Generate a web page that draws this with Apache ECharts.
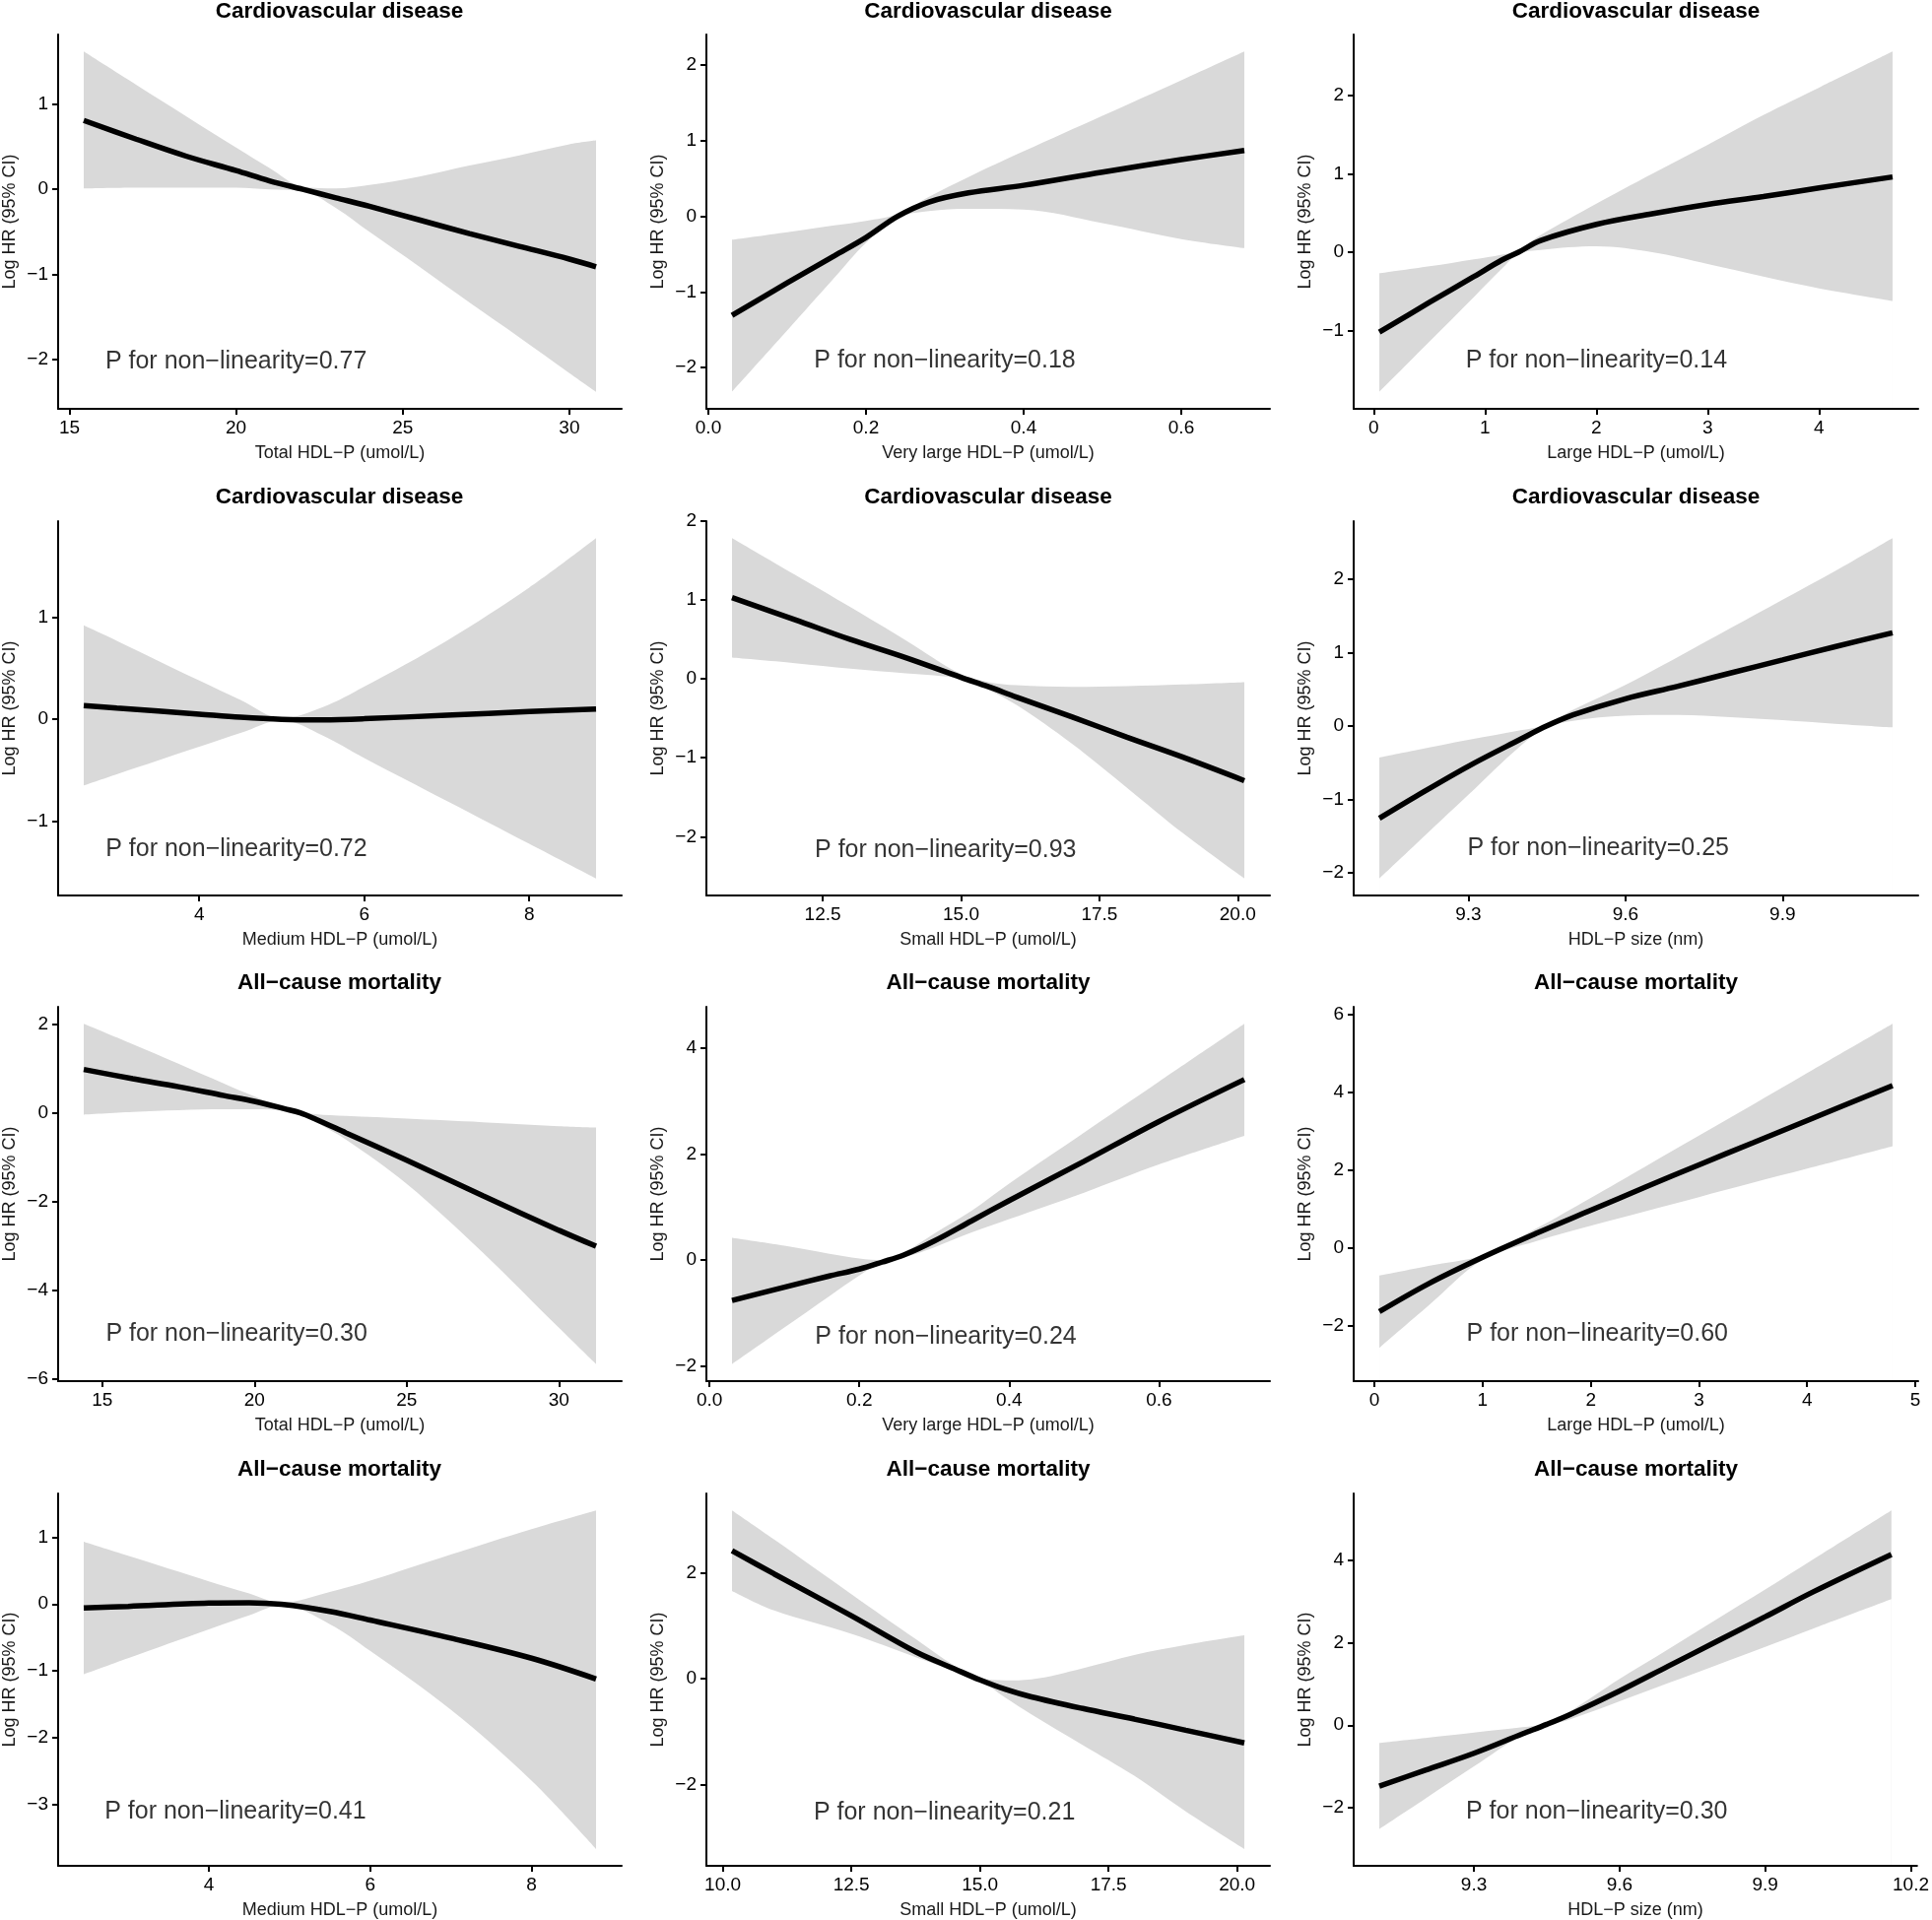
<!DOCTYPE html>
<html>
<head>
<meta charset="utf-8">
<script src="https://cdn.jsdelivr.net/npm/echarts@6/dist/echarts.min.js"></script>
<style>
html,body{margin:0;padding:0;background:#fff;}
#c{width:1961px;height:1949px;}
</style>
</head>
<body>
<div id="c"></div>
<script>
// ---------- DATA ----------
const titles = [
  "Cardiovascular disease","Cardiovascular disease","Cardiovascular disease",
  "Cardiovascular disease","Cardiovascular disease","Cardiovascular disease",
  "All\u2212cause mortality","All\u2212cause mortality","All\u2212cause mortality",
  "All\u2212cause mortality","All\u2212cause mortality","All\u2212cause mortality"
];
const xNames = [
  "Total HDL\u2212P (umol/L)","Very large HDL\u2212P (umol/L)","Large HDL\u2212P (umol/L)",
  "Medium HDL\u2212P (umol/L)","Small HDL\u2212P (umol/L)","HDL\u2212P size (nm)",
  "Total HDL\u2212P (umol/L)","Very large HDL\u2212P (umol/L)","Large HDL\u2212P (umol/L)",
  "Medium HDL\u2212P (umol/L)","Small HDL\u2212P (umol/L)","HDL\u2212P size (nm)"
];
const yName = "Log HR (95% CI)";
const pValues = ["0.77","0.18","0.14","0.72","0.93","0.25","0.30","0.24","0.60","0.41","0.21","0.30"];
const xTicks = [
  [15,20,25,30],[0,0.2,0.4,0.6],[0,1,2,3,4],
  [4,6,8],[12.5,15,17.5,20],[9.3,9.6,9.9],
  [15,20,25,30],[0,0.2,0.4,0.6],[0,1,2,3,4,5],
  [4,6,8],[10,12.5,15,17.5,20],[9.3,9.6,9.9,10.2]
];
const xDecimals = [0,1,0,0,1,1,0,1,0,0,1,1];
const yTicks = [
  [-2,-1,0,1],[-2,-1,0,1,2],[-1,0,1,2],
  [-1,0,1],[-2,-1,0,1,2],[-2,-1,0,1,2],
  [-6,-4,-2,0,2],[-2,0,2,4],[-2,0,2,4,6],
  [-3,-2,-1,0,1],[-2,0,2],[-2,0,2,4]
];
// extra lower value the y scale is trained on (null = none)
const yScaleLow = [null,null,null,null,null,null,null,null,-3.0,null,null,-3.0];
const annotX = [20, 0.30, 2.0, 4.45, 14.72, 9.548, 19.41, 0.3155, 2.06, 4.33, 14.31, 9.553];
const annotY = [-2.02, -1.91, -1.38, -1.27, -2.17, -1.675, -5.0, -1.45, -2.22, -3.1, -2.52, -2.10];

const p1X   = [15.43, 17, 18.5, 20, 21, 22, 23, 24, 25.5, 27, 28.5, 30, 30.8];
const p1Fit = [0.81, 0.59, 0.39, 0.22, 0.10, 0.0, -0.10, -0.20, -0.36, -0.52, -0.67, -0.82, -0.91];
const p1Hi  = [1.62, 1.23, 0.86, 0.49, 0.25, 0.03, 0.01, 0.05, 0.15, 0.28, 0.40, 0.53, 0.575];
const p1Lo  = [0.01, 0.02, 0.02, 0.02, 0.0, -0.02, -0.22, -0.50, -0.91, -1.33, -1.74, -2.16, -2.38];

const p2X   = [0.03, 0.1, 0.16, 0.2, 0.24, 0.28, 0.33, 0.4, 0.5, 0.6, 0.68];
const p2Fit = [-1.31, -0.88, -0.52, -0.28, 0.0, 0.19, 0.31, 0.41, 0.585, 0.75, 0.87];
const p2Hi  = [-0.31, -0.21, -0.12, -0.06, 0.03, 0.26, 0.52, 0.86, 1.33, 1.80, 2.18];
const p2Lo  = [-2.32, -1.51, -0.81, -0.35, -0.02, 0.07, 0.10, 0.09, -0.09, -0.30, -0.42];

const p3X   = [0.05, 0.5, 0.9, 1.15, 1.3, 1.5, 2, 2.5, 3, 3.5, 4, 4.66];
const p3Fit = [-1.02, -0.64, -0.31, -0.1, 0.0, 0.15, 0.355, 0.49, 0.61, 0.71, 0.82, 0.96];
const p3Hi  = [-0.27, -0.18, -0.09, -0.03, 0.03, 0.22, 0.62, 1.0, 1.37, 1.75, 2.1, 2.56];
const p3Lo  = [-1.78, -1.14, -0.57, -0.21, -0.02, 0.03, 0.075, 0.0, -0.15, -0.31, -0.46, -0.62];

const p4X   = [2.6, 3, 4, 4.5, 5, 5.5, 6, 7, 8, 8.81];
const p4Fit = [0.135, 0.11, 0.05, 0.02, 0.0, -0.005, 0.005, 0.04, 0.075, 0.10];
const p4Hi  = [0.92, 0.77, 0.38, 0.19, 0.01, 0.12, 0.32, 0.77, 1.29, 1.775];
const p4Lo  = [-0.65, -0.54, -0.27, -0.135, -0.01, -0.16, -0.38, -0.8, -1.22, -1.56];

const p5X   = [10.86, 12, 13, 14, 15, 15.5, 16, 17, 18, 19, 20.12];
const p5Fit = [1.03, 0.75, 0.5, 0.27, 0.02, -0.1, -0.23, -0.48, -0.74, -0.99, -1.29];
const p5Hi  = [1.785, 1.32, 0.91, 0.49, 0.06, -0.04, -0.08, -0.1, -0.09, -0.07, -0.04];
const p5Lo  = [0.27, 0.2, 0.13, 0.07, 0.0, -0.14, -0.33, -0.82, -1.38, -1.95, -2.53];

const p6X   = [9.13, 9.2, 9.3, 9.4, 9.45, 9.5, 9.6, 9.7, 9.8, 9.9, 10.0, 10.11];
const p6Fit = [-1.26, -0.96, -0.55, -0.18, 0.0, 0.15, 0.37, 0.54, 0.72, 0.9, 1.08, 1.27];
const p6Hi  = [-0.43, -0.33, -0.19, -0.06, 0.02, 0.22, 0.56, 0.94, 1.33, 1.72, 2.11, 2.56];
const p6Lo  = [-2.08, -1.61, -0.94, -0.27, -0.02, 0.07, 0.14, 0.15, 0.12, 0.08, 0.03, -0.02];

const p7X   = [14.39, 16, 17.5, 19, 20, 21, 21.5, 22, 23, 25, 27.5, 30, 31.22];
const p7Fit = [0.98, 0.77, 0.59, 0.39, 0.26, 0.09, 0.0, -0.14, -0.45, -1.07, -1.87, -2.65, -3.01];
const p7Hi  = [2.01, 1.55, 1.11, 0.66, 0.37, 0.11, 0.03, -0.03, -0.07, -0.13, -0.21, -0.3, -0.33];
const p7Lo  = [-0.04, 0.02, 0.06, 0.08, 0.08, 0.05, -0.02, -0.2, -0.6, -1.6, -3.15, -4.85, -5.67];

const p8X   = [0.03, 0.1, 0.16, 0.2, 0.23, 0.26, 0.3, 0.35, 0.4, 0.5, 0.6, 0.714];
const p8Fit = [-0.76, -0.51, -0.3, -0.17, -0.04, 0.1, 0.36, 0.74, 1.12, 1.86, 2.61, 3.40];
const p8Hi  = [0.42, 0.27, 0.12, 0.03, 0.0, 0.15, 0.5, 0.93, 1.44, 2.4, 3.36, 4.45];
const p8Lo  = [-1.96, -1.27, -0.68, -0.29, -0.05, 0.05, 0.24, 0.52, 0.77, 1.27, 1.8, 2.34];

const p9X   = [0.045, 0.5, 1.0, 1.5, 2, 2.5, 3, 3.5, 4, 4.79];
const p9Fit = [-1.65, -0.93, -0.25, 0.37, 0.96, 1.55, 2.13, 2.7, 3.27, 4.17];
const p9Hi  = [-0.72, -0.47, -0.19, 0.5, 1.28, 2.08, 2.88, 3.68, 4.49, 5.76];
const p9Lo  = [-2.58, -1.49, -0.31, 0.17, 0.56, 0.93, 1.3, 1.67, 2.03, 2.61];

const p10X   = [2.45, 3, 4, 4.5, 4.9, 5.5, 6, 7, 8, 8.8];
const p10Fit = [-0.06, -0.035, 0.015, 0.02, -0.005, -0.11, -0.24, -0.51, -0.81, -1.12];
const p10Hi  = [0.93, 0.72, 0.34, 0.16, 0.02, 0.18, 0.35, 0.74, 1.12, 1.40];
const p10Lo  = [-1.05, -0.81, -0.38, -0.17, -0.02, -0.3, -0.7, -1.58, -2.64, -3.66];

const p11X   = [10.18, 11, 12.5, 13.75, 14.5, 15, 15.5, 16, 17, 18, 19, 20.14];
const p11Fit = [2.42, 1.98, 1.19, 0.51, 0.19, -0.02, -0.2, -0.34, -0.56, -0.76, -0.97, -1.21];
const p11Hi  = [3.18, 2.63, 1.6, 0.75, 0.25, 0.02, -0.03, -0.01, 0.2, 0.45, 0.64, 0.82];
const p11Lo  = [1.66, 1.29, 0.85, 0.41, 0.15, -0.03, -0.36, -0.67, -1.25, -1.83, -2.5, -3.21];

const p12X   = [9.105, 9.2, 9.3, 9.4, 9.45, 9.5, 9.6, 9.7, 9.8, 9.9, 10.0, 10.16];
const p12Fit = [-1.48, -1.09, -0.68, -0.21, 0.02, 0.27, 0.83, 1.43, 2.03, 2.63, 3.24, 4.14];
const p12Hi  = [-0.43, -0.31, -0.18, -0.05, 0.05, 0.35, 1.12, 1.84, 2.57, 3.29, 4.03, 5.21];
const p12Lo  = [-2.52, -1.78, -1.0, -0.23, -0.02, 0.15, 0.58, 1.02, 1.46, 1.9, 2.35, 3.06];

const panels = [
  {x:p1X, fit:p1Fit, hi:p1Hi, lo:p1Lo}, {x:p2X, fit:p2Fit, hi:p2Hi, lo:p2Lo}, {x:p3X, fit:p3Fit, hi:p3Hi, lo:p3Lo},
  {x:p4X, fit:p4Fit, hi:p4Hi, lo:p4Lo}, {x:p5X, fit:p5Fit, hi:p5Hi, lo:p5Lo}, {x:p6X, fit:p6Fit, hi:p6Hi, lo:p6Lo},
  {x:p7X, fit:p7Fit, hi:p7Hi, lo:p7Lo}, {x:p8X, fit:p8Fit, hi:p8Hi, lo:p8Lo}, {x:p9X, fit:p9Fit, hi:p9Hi, lo:p9Lo},
  {x:p10X, fit:p10Fit, hi:p10Hi, lo:p10Lo}, {x:p11X, fit:p11Fit, hi:p11Hi, lo:p11Lo}, {x:p12X, fit:p12Fit, hi:p12Hi, lo:p12Lo}
];

// ---------- LAYOUT / STYLE ----------
const colLeft = [58, 717, 1374];
const colRight = [631, 1289, 1947];
const rowTop = [35, 529, 1022, 1516];
const plotH = 380;
const FONT = '"Liberation Sans", Arial, Helvetica, sans-serif';
const BAND = '#D9D9D9';

function fmt(v, d) {
  const s = Math.abs(v).toFixed(d);
  return (v < -1e-9 ? '\u2212' : '') + s;
}

const grids = [], xAxes = [], yAxes = [], series = [], titleList = [];

panels.forEach((p, i) => {
  const r = Math.floor(i / 3), c = i % 3;
  const left = colLeft[c], width = colRight[c] - colLeft[c], top = rowTop[r];
  grids.push({left: left, top: top, width: width, height: plotH, containLabel: false});

  const xmin = Math.min(...p.x), xmax = Math.max(...p.x);
  let ymin = Math.min(...p.lo, ...p.fit), ymax = Math.max(...p.hi, ...p.fit);
  if (yScaleLow[i] !== null) ymin = Math.min(ymin, yScaleLow[i]);
  const xr = xmax - xmin, yr = ymax - ymin;

  xAxes.push({
    type: 'value', gridIndex: i, z: 10,
    min: xmin - 0.05 * xr, max: xmax + 0.05 * xr,
    name: xNames[i], nameLocation: 'middle', nameGap: 36,
    nameTextStyle: {fontFamily: FONT, fontSize: 18, color: '#1a1a1a'},
    axisLine: {show: true, onZero: false, lineStyle: {color: '#000', width: 2}},
    axisTick: {show: true, inside: false, length: 6, customValues: xTicks[i], lineStyle: {color: '#000', width: 2}},
    axisLabel: {show: true, margin: 10, customValues: xTicks[i], fontFamily: FONT, fontSize: 19, color: '#000',
      formatter: (v) => fmt(v, xDecimals[i])},
    splitLine: {show: false}
  });
  yAxes.push({
    type: 'value', gridIndex: i, z: 10,
    min: ymin - 0.05 * yr, max: ymax + 0.05 * yr,
    name: yName, nameLocation: 'middle', nameGap: 40, nameRotate: 90,
    nameTextStyle: {fontFamily: FONT, fontSize: 18, color: '#1a1a1a'},
    axisLine: {show: true, onZero: false, lineStyle: {color: '#000', width: 2}},
    axisTick: {show: true, inside: false, length: 6, customValues: yTicks[i], lineStyle: {color: '#000', width: 2}},
    axisLabel: {show: true, margin: 10, customValues: yTicks[i], fontFamily: FONT, fontSize: 19, color: '#000',
      formatter: (v) => fmt(v, 0)},
    splitLine: {show: false}
  });

  // upper CI filled grey down to axis start
  series.push({
    type: 'line', xAxisIndex: i, yAxisIndex: i, silent: true, z: 1,
    data: p.x.map((v, k) => [v, p.hi[k]]),
    smooth: 0.35, symbol: 'none', lineStyle: {width: 0, opacity: 0},
    areaStyle: {color: BAND, opacity: 1, origin: 'start'}
  });
  // lower CI: white below it, leaving the band between lower and upper
  series.push({
    type: 'line', xAxisIndex: i, yAxisIndex: i, silent: true, z: 1,
    data: p.x.map((v, k) => [v, p.lo[k]]),
    smooth: 0.35, symbol: 'none', lineStyle: {width: 0, opacity: 0},
    areaStyle: {color: '#ffffff', opacity: 1, origin: 'start'}
  });
  // fitted curve
  series.push({
    type: 'line', xAxisIndex: i, yAxisIndex: i, silent: true, z: 3,
    data: p.x.map((v, k) => [v, p.fit[k]]),
    smooth: 0.35, symbol: 'none', lineStyle: {color: '#000', width: 5.5, cap: 'butt'}
  });
  // annotation
  series.push({
    type: 'scatter', xAxisIndex: i, yAxisIndex: i, silent: true, z: 4,
    data: [[annotX[i], annotY[i]]], symbolSize: 1, itemStyle: {color: 'rgba(0,0,0,0)'},
    label: {show: true, position: 'inside', formatter: 'P for non\u2212linearity=' + pValues[i],
      fontFamily: FONT, fontSize: 25, color: '#000', align: 'center', verticalAlign: 'middle'}
  });

  titleList.push({
    text: titles[i], left: left + width / 2, top: Math.max(0, top - 36), textAlign: 'center', padding: 0,
    textStyle: {fontFamily: FONT, fontSize: 22.5, fontWeight: 'bold', color: '#000'}
  });
});

const chart = echarts.init(document.getElementById('c'), null, {renderer: 'canvas'});
chart.setOption({
  animation: false,
  backgroundColor: '#ffffff',
  title: titleList,
  grid: grids,
  xAxis: xAxes,
  yAxis: yAxes,
  series: series
});
</script>
</body>
</html>
